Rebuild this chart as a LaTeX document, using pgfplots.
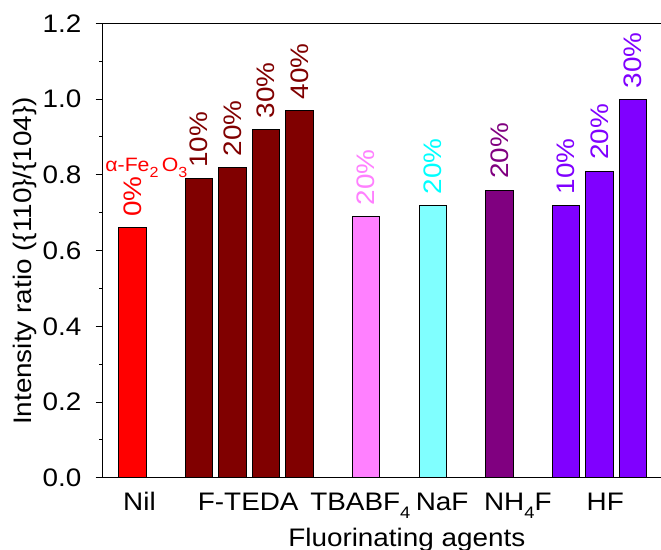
\documentclass[border=0pt]{standalone}
\usepackage{fontspec}
\setmainfont{Liberation Sans}[FakeStretch=1.1]
\usepackage{pgfplots}
\pgfplotsset{compat=1.18}
\definecolor{cNil}{RGB}{255,0,0}
\definecolor{cF}{RGB}{128,0,0}
\definecolor{cTB}{RGB}{255,128,255}
\definecolor{cNaF}{RGB}{128,255,255}
\definecolor{cNaFt}{RGB}{0,255,255}
\definecolor{cNH}{RGB}{128,0,128}
\definecolor{cHF}{RGB}{128,0,255}
\newcommand{\sub}[1]{\raisebox{-6.5pt}{\fontsize{12.5}{12.5}\selectfont #1}}
\begin{document}
\begin{tikzpicture}[font=\fontsize{19}{22}\selectfont]
\useasboundingbox (-77.0pt,-53.5pt) rectangle (418.7pt,358.3pt);
\begin{axis}[
  at={(0,0)}, anchor=south west, scale only axis,
  width=456.2pt, height=340.8pt,
  xmin=-0.893, xmax=17.34, ymin=0, ymax=1.2,
  axis line style={line width=1pt},
  tick align=outside,
  ytick={0,0.2,...,1.21}, minor y tick num=1,
  ytick pos=left, xtick pos=bottom,
  major tick length=5.25pt, minor tick length=2.6pt,
  every tick/.style={black, line width=0.8pt},
  yticklabel style={/pgf/number format/fixed, /pgf/number format/precision=1, /pgf/number format/fixed zerofill, /pgf/number format/assume math mode=true, anchor=east, inner sep=0pt, xshift=-10.6pt},
  xtick=\empty,
  extra x ticks={0.21,3.47,6.83,9.28,11.55,14.17},
  extra x tick labels={Nil,F-TEDA,TBABF\sub{4},NaF,NH\sub{4}F,HF},
  extra x tick style={tick style={draw=none}, xticklabel style={anchor=base, yshift=-19pt, inner sep=0pt}},
  xlabel={Fluorinating agents},
  xlabel style={at={(axis description cs:0.5,0)}, anchor=base, yshift=-51.2pt, inner sep=0pt},
  ylabel={Intensity ratio (\{110\}/\{104\})},
  ylabel style={at={(axis description cs:0,0.477)}, anchor=base, yshift=53.3pt, inner sep=0pt},
  bar width=0.82, bar shift=0pt,
  every node near coord/.append style={rotate=90, anchor=west, inner sep=0pt, inner xsep=8pt},
]
\addplot[ybar, bar shift=0pt, fill=cNil, draw=black, line width=0.6pt,
  nodes near coords, point meta=explicit symbolic,
  every node near coord/.append style={text=cNil, anchor=west}]
  coordinates {(0,0.66) [0\%]};
\addplot[ybar, bar shift=0pt, fill=cF, draw=black, line width=0.6pt,
  nodes near coords, point meta=explicit symbolic,
  every node near coord/.append style={text=cF, anchor=west}]
  coordinates {(2,0.79) [10\%] (3,0.82) [20\%] (4,0.92) [30\%] (5,0.97) [40\%]};
\addplot[ybar, bar shift=0pt, fill=cTB, draw=black, line width=0.6pt,
  nodes near coords, point meta=explicit symbolic,
  every node near coord/.append style={text=cTB, anchor=west}]
  coordinates {(7,0.69) [20\%]};
\addplot[ybar, bar shift=0pt, fill=cNaF, draw=black, line width=0.6pt,
  nodes near coords, point meta=explicit symbolic,
  every node near coord/.append style={text=cNaFt, anchor=west}]
  coordinates {(9,0.72) [20\%]};
\addplot[ybar, bar shift=0pt, fill=cNH, draw=black, line width=0.6pt,
  nodes near coords, point meta=explicit symbolic,
  every node near coord/.append style={text=cNH, anchor=west}]
  coordinates {(11,0.76) [20\%]};
\addplot[ybar, bar shift=0pt, fill=cHF, draw=black, line width=0.6pt,
  nodes near coords, point meta=explicit symbolic,
  every node near coord/.append style={text=cHF, anchor=west}]
  coordinates {(13,0.72) [10\%] (14,0.81) [20\%] (15,1.00) [30\%]};
\node[anchor=base west, inner sep=0pt, text=cNil, font=\fontsize{14.5}{15}\selectfont]
  at (axis cs:-0.82,0.81) {α-Fe\raisebox{-5pt}{\fontsize{11}{11}\selectfont 2}\,O\raisebox{-5pt}{\fontsize{11}{11}\selectfont 3}};
\end{axis}
\end{tikzpicture}
\end{document}
